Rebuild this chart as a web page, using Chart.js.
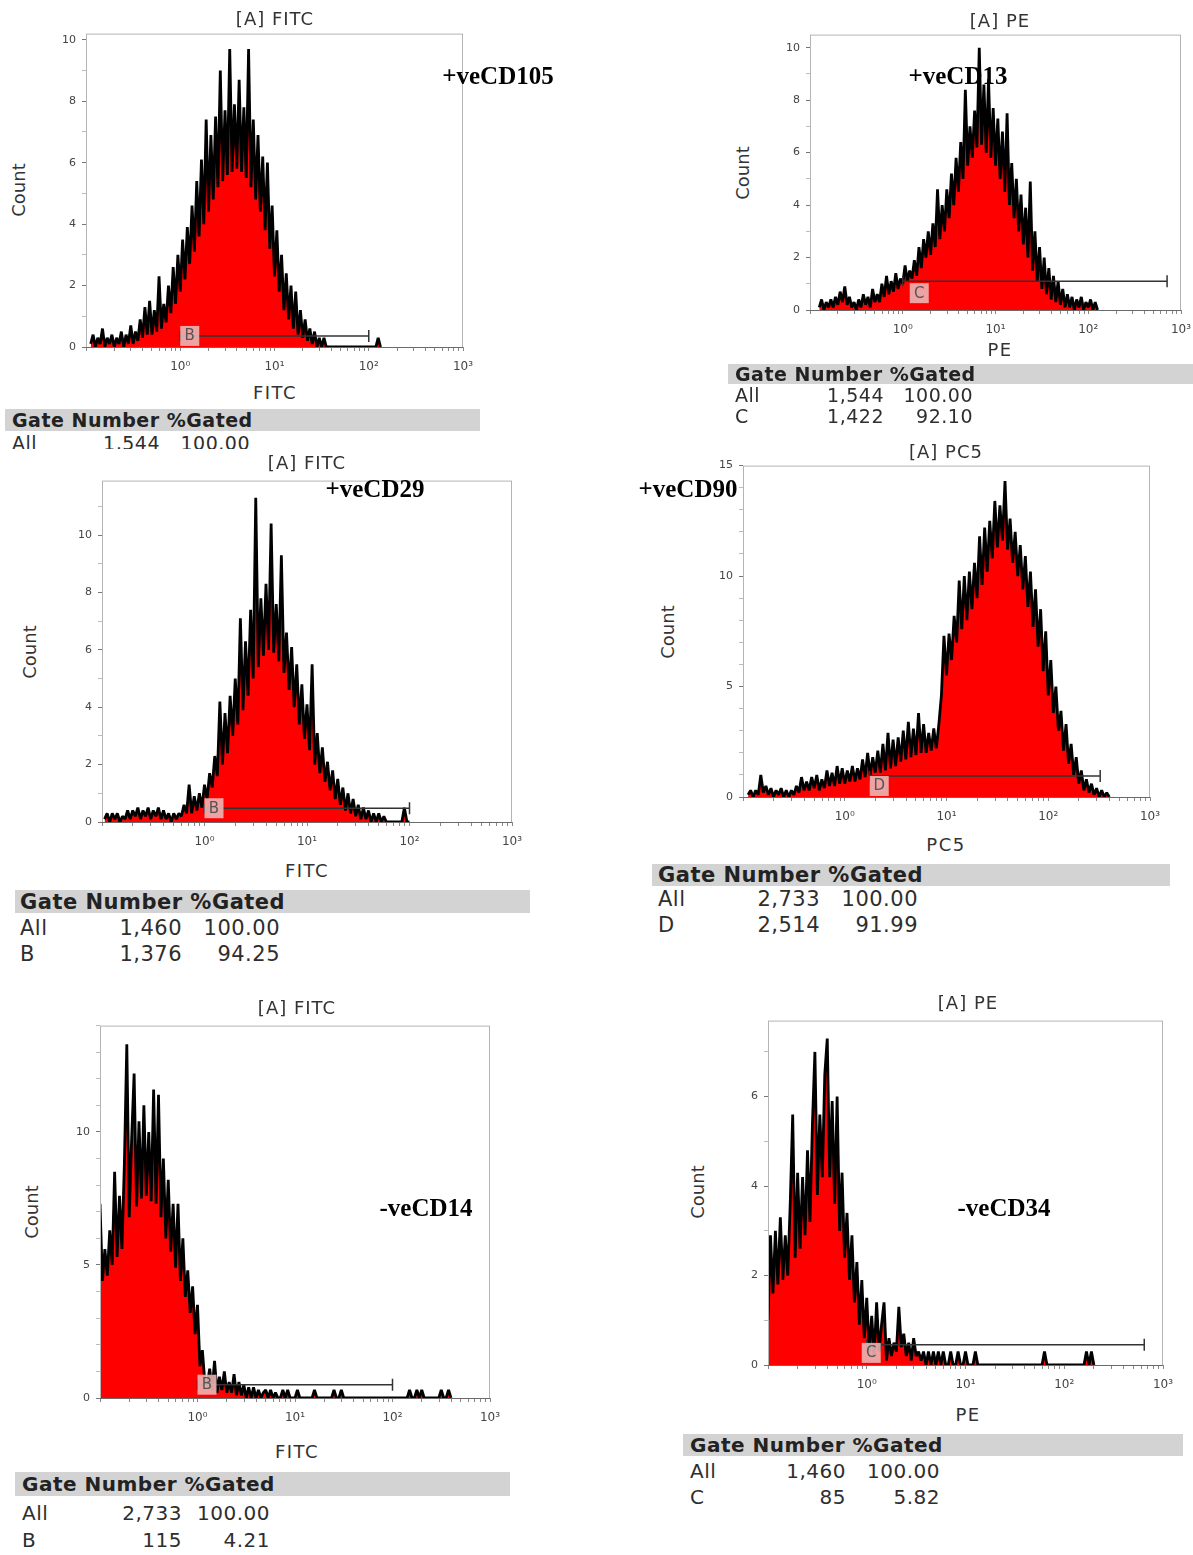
<!DOCTYPE html>
<html lang="en">
<head>
<meta charset="UTF-8">
<script src="https://cdn.jsdelivr.net/npm/chart.js"></script>
<style>
  body { margin:0; background:#fff; width:1193px; height:1555px; position:relative; overflow:hidden;
         font-family:"DejaVu Sans", Verdana, sans-serif; color:#333; }
  canvas { position:absolute; }
  .layer { position:absolute; left:0; width:1193px; overflow:hidden; }
  .t { position:absolute; white-space:nowrap; line-height:1; transform:translate(-50%,-50%); }
  .cnt { transform:translate(-50%,-50%) rotate(-90deg); }
  .mark { position:absolute; white-space:nowrap; line-height:1; transform:translate(-50%,-50%);
          font-family:"Liberation Serif","Times New Roman",serif; font-weight:bold; font-size:25px; color:#000; }
  .bar { position:absolute; background:#d3d3d3; }
  .cell { position:absolute; white-space:nowrap; line-height:1; transform:translateY(-50%); color:#2e2e2e; letter-spacing:0.5px; }
</style>
</head>
<body>
<script>
// histogram channels: log10 position = start + i * binStep
const binStep = 0.025;

const cd105Start = -0.95;
const cd105Counts = [
  0.1,0.4,0,0.3,0.1,0.6,0,0.3,0.1,0.4,
  0,0.3,0.1,0.5,0,0.4,0.1,0.7,0.1,0.5,
  0.2,0.9,0.3,1.3,0.4,1.5,0.4,1.2,0.5,2.3,
  0.6,1.4,0.8,2.0,1.1,2.6,1.4,3.0,1.8,3.5,
  2.2,3.9,2.7,4.6,3.1,5.4,3.6,6.1,4.0,7.4,
  4.4,6.9,4.8,7.5,5.2,9.0,5.4,7.7,5.6,9.7,
  5.7,7.9,5.8,8.7,5.7,7.8,5.5,9.7,5.2,7.4,
  4.8,6.9,4.4,6.2,3.8,6.0,3.2,4.6,2.3,3.8,
  1.8,3.0,1.2,2.4,0.9,2.0,0.6,1.8,0.4,1.2,
  0.3,0.9,0.2,0.6,0.1,0.5,0,0.3,0,0.3,
  0,0,0,0,0,0,0,0,0,0,
  0,0,0,0,0,0,0,0,0,0,
  0,0,0.3,0
];

const cd13Start = -0.9;
const cd13Counts = [
  0.1,0.4,0,0.3,0.1,0.4,0.1,0.5,0.2,0.7,
  0.3,0.9,0.2,0.5,0.1,0.3,0,0.4,0.1,0.6,
  0.2,0.5,0.1,0.8,0.3,0.6,0.3,1.0,0.5,1.3,
  0.6,1.1,0.7,1.4,0.8,1.2,1.0,1.7,1.1,1.5,
  1.2,1.9,1.3,2.4,1.6,2.7,2.0,3.0,2.1,3.3,
  2.4,4.6,2.7,4.0,3.0,4.6,3.5,5.2,4.0,5.8,
  4.5,6.4,5.0,8.4,5.5,7.0,5.8,7.6,6.2,10.0,
  6.3,8.6,6.0,8.8,5.8,7.7,5.5,7.3,5.0,6.8,
  4.5,7.5,4.0,5.6,3.5,5.0,3.0,4.4,2.5,3.9,
  2.0,4.9,1.5,3.0,1.1,2.4,0.8,2.0,0.6,1.6,
  0.4,1.3,0.3,1.1,0.2,0.8,0.1,0.6,0.1,0.5,
  0,0.4,0.1,0.5,0,0.3,0.1,0.4,0,0.3,
  0
];

const cd29Start = -0.975;
const cd29Counts = [
  0.1,0.3,0,0.3,0.1,0.3,0,0.2,0.1,0.4,
  0.1,0.4,0.2,0.5,0.1,0.4,0.2,0.5,0.1,0.4,
  0.2,0.5,0.1,0.4,0.1,0.3,0,0.3,0.1,0.3,
  0.2,0.6,0.3,1.3,0.3,0.9,0.4,1.0,0.5,1.3,
  0.8,1.7,1.2,2.3,1.6,4.2,2.0,3.8,2.4,4.4,
  3.0,5.0,3.4,7.1,3.9,6.3,4.4,7.4,5.0,11.3,
  5.4,7.8,5.8,8.3,6.0,10.4,5.9,7.6,5.6,9.3,
  5.2,6.6,4.6,6.1,4.0,5.5,3.4,4.8,2.9,4.1,
  2.5,5.5,2.0,3.1,1.7,2.6,1.4,2.1,1.1,1.8,
  0.8,1.5,0.6,1.2,0.4,1.0,0.3,0.8,0.2,0.6,
  0.1,0.5,0.1,0.4,0,0.3,0,0.3,0,0.2,
  0,0,0,0,0,0,0,0.5,0,0
];

const cd90Start = -0.95;
const cd90Counts = [
  0.1,0.3,0,0.3,0.1,1.0,0.2,0.5,0.1,0.4,
  0,0.3,0.1,0.4,0,0.3,0,0.3,0.1,0.5,
  0.2,0.9,0.3,0.7,0.3,0.9,0.4,1.0,0.3,0.8,
  0.4,1.2,0.5,1.1,0.5,1.4,0.6,1.3,0.6,1.2,
  0.7,1.4,0.7,1.3,0.8,1.7,0.9,2.0,1.0,1.8,
  1.1,2.1,1.1,2.4,1.2,2.9,1.3,2.6,1.4,2.7,
  1.6,3.0,1.7,3.4,1.8,3.1,1.9,3.8,2.0,3.3,
  2.0,2.9,2.1,3.1,2.2,3.3,4.6,7.3,5.5,7.4,
  6.2,8.2,7.0,9.8,7.6,10.0,8.0,10.2,8.5,10.6,
  9.0,11.8,9.6,12.2,10.2,12.5,10.8,13.4,11.3,13.2,
  11.6,14.3,11.2,12.6,10.6,12.0,10.0,11.4,9.4,10.9,
  8.6,10.2,7.7,9.4,6.8,8.5,5.7,7.5,4.6,6.2,
  3.8,5.0,3.0,3.9,2.1,3.3,1.5,2.4,1.0,1.8,
  0.6,1.2,0.3,0.8,0.2,0.6,0.1,0.4,0,0.3,
  0,0.2,0
];

const cd14Start = -1.0;
const cd14Counts = [
  7.3,4.4,5.6,4.6,6.3,5.0,8.5,5.3,7.6,5.6,
  8.8,13.3,6.8,9.8,12.2,7.2,10.4,7.5,11.0,7.6,
  10.0,7.4,11.6,7.3,11.4,6.8,9.0,6.0,8.2,5.5,
  7.3,4.9,7.3,4.4,6.0,3.8,4.8,3.2,4.2,2.4,
  3.5,1.2,1.8,0.6,0.5,1.1,0.3,1.4,0.2,0.8,
  0.3,1.0,0.2,0.6,0.2,0.9,0.1,0.6,0.1,0.5,
  0,0.4,0,0.4,0,0.3,0,0.2,0.3,0,
  0.3,0,0.2,0,0,0.3,0,0.3,0,0,
  0,0.3,0,0,0,0,0,0,0.3,0,
  0,0,0,0,0,0,0.3,0,0,0.3,
  0,0,0,0,0,0,0,0,0,0,
  0,0,0,0,0,0,0,0,0,0,
  0,0,0,0,0,0,0,0.3,0,0,
  0.3,0,0.3,0,0,0,0,0,0,0,
  0.3,0,0,0.3,0
];

const cd34Start = -1.0;
const cd34Counts = [
  1.0,2.9,1.6,3.0,1.8,3.3,1.9,2.9,2.0,3.6,
  5.6,2.4,4.3,2.6,4.2,2.9,4.8,3.2,5.4,7.0,
  3.8,5.6,4.2,6.5,7.3,4.2,5.9,3.6,6.0,3.0,
  4.3,2.4,3.4,1.9,2.9,1.4,2.3,0.9,1.9,0.6,
  1.5,0.3,1.1,0.2,1.4,0.3,0.9,1.4,0.1,0.6,
  0.2,0.5,0.3,1.3,0.4,0.7,0.2,0.5,0.1,0.6,
  0.2,0.3,0.1,0.3,0,0.3,0,0.3,0,0.3,
  0,0.3,0,0,0.3,0,0,0.3,0,0,
  0.3,0,0,0,0.3,0,0,0,0,0,
  0,0,0,0,0,0,0,0,0,0,
  0,0,0,0,0,0,0,0,0,0,
  0,0,0.3,0,0,0,0,0,0,0,
  0,0,0,0,0,0,0,0,0,0.3,
  0,0.3,0
];

// axis ticks
const xDecades = [1, 10, 100, 1000];
const xDecadeLabels = ['10\u2070', '10\u00b9', '10\u00b2', '10\u00b3'];
const cd105YTicks = [0, 2, 4, 6, 8, 10];
const cd13YTicks = [0, 2, 4, 6, 8, 10];
const cd29YTicks = [0, 2, 4, 6, 8, 10];
const cd90YTicks = [0, 5, 10, 15];
const cd14YTicks = [0, 5, 10];
const cd34YTicks = [0, 2, 4, 6];

// gate markers: [from, to, level]
const cd105Gate = [1, 100, 0.36];
const cd13Gate = [1, 708, 1.1];
const cd29Gate = [1, 100, 0.48];
const cd90Gate = [1.76, 324, 0.95];
const cd14Gate = [1, 100, 0.5];
const cd34Gate = [1, 646, 0.45];

// gate statistics tables
const cd105Rows = [['All', '1,544', '100.00']];
const cd13Rows = [['All', '1,544', '100.00'], ['C', '1,422', '92.10']];
const cd29Rows = [['All', '1,460', '100.00'], ['B', '1,376', '94.25']];
const cd90Rows = [['All', '2,733', '100.00'], ['D', '2,514', '91.99']];
const cd14Rows = [['All', '2,733', '100.00'], ['B', '115', '4.21']];
const cd34Rows = [['All', '1,460', '100.00'], ['C', '85', '5.82']];

const panels = [
  { start: cd105Start, counts: cd105Counts, yTicks: cd105YTicks, gate: cd105Gate, gateName: 'B', rows: cd105Rows,
    title: '[A] FITC', axis: 'FITC', marker: '+veCD105',
    box: { l: 86, t: 33, r: 463, b: 347 }, yMax: 10.2, boxDx: 0, boxDy: 0,
    titleAt: [275, 19], axisAt: [275, 393], countAt: [19, 190], markAt: [498, 75],
    table: { l: 5, r: 480, t: 409, b: 431, font: 19, labelX: 12, numX: 160, pctX: 250, headY: 420, rowY: [443], clip: 449 } },
  { start: cd13Start, counts: cd13Counts, yTicks: cd13YTicks, gate: cd13Gate, gateName: 'C', rows: cd13Rows,
    title: '[A] PE', axis: 'PE', marker: '+veCD13',
    box: { l: 810, t: 34, r: 1181, b: 310 }, yMax: 10.5, boxDx: 7, boxDy: 12,
    titleAt: [1000, 21], axisAt: [1000, 350], countAt: [743, 173], markAt: [958, 75],
    table: { l: 728, r: 1193, t: 364, b: 384, font: 19, labelX: 735, numX: 884, pctX: 973, headY: 374, rowY: [395, 416] } },
  { start: cd29Start, counts: cd29Counts, yTicks: cd29YTicks, gate: cd29Gate, gateName: 'B', rows: cd29Rows,
    title: '[A] FITC', axis: 'FITC', marker: '+veCD29',
    box: { l: 102, t: 480, r: 512, b: 822 }, yMax: 11.9, boxDx: 0, boxDy: 0,
    titleAt: [307, 463], axisAt: [307, 871], countAt: [30, 652], markAt: [375, 488],
    table: { l: 15, r: 530, t: 890, b: 913, font: 21, labelX: 20, numX: 182, pctX: 280, headY: 902, rowY: [928, 954] } },
  { start: cd90Start, counts: cd90Counts, yTicks: cd90YTicks, gate: cd90Gate, gateName: 'D', rows: cd90Rows,
    title: '[A] PC5', axis: 'PC5', marker: '+veCD90',
    box: { l: 743, t: 465, r: 1150, b: 797 }, yMax: 15, boxDx: 0, boxDy: 10, titleClip: 444,
    titleAt: [946, 452], axisAt: [946, 845], countAt: [668, 632], markAt: [688, 488],
    table: { l: 652, r: 1170, t: 864, b: 886, font: 21, labelX: 658, numX: 820, pctX: 918, headY: 875, rowY: [899, 925] } },
  { start: cd14Start, counts: cd14Counts, yTicks: cd14YTicks, gate: cd14Gate, gateName: 'B', rows: cd14Rows,
    title: '[A] FITC', axis: 'FITC', marker: '-veCD14',
    box: { l: 100, t: 1025, r: 490, b: 1398 }, yMax: 14, boxDx: 0, boxDy: 0,
    titleAt: [297, 1008], axisAt: [297, 1452], countAt: [32, 1212], markAt: [426, 1207],
    table: { l: 15, r: 510, t: 1472, b: 1496, font: 20, labelX: 22, numX: 182, pctX: 270, headY: 1484, rowY: [1513, 1540] } },
  { start: cd34Start, counts: cd34Counts, yTicks: cd34YTicks, gate: cd34Gate, gateName: 'C', rows: cd34Rows,
    title: '[A] PE', axis: 'PE', marker: '-veCD34',
    box: { l: 768, t: 1020, r: 1163, b: 1365 }, yMax: 7.7, boxDx: -5, boxDy: 8,
    titleAt: [968, 1003], axisAt: [968, 1415], countAt: [698, 1192], markAt: [1004, 1207],
    table: { l: 683, r: 1183, t: 1434, b: 1456, font: 20, labelX: 690, numX: 846, pctX: 940, headY: 1445, rowY: [1471, 1497] } }
];

Chart.defaults.font.family = '"DejaVu Sans", Verdana, sans-serif';

// minor x ticks at 2..9 of each decade
const xAllTicks = [0.1];
[0.1, 1, 10, 100].forEach(d => {
  for (let m = 2; m <= 9; m++) xAllTicks.push(d * m);
  xAllTicks.push(d * 10 === 1 ? 1 : d * 10);
});

const YW = 38, PT = 12, PR = 22, XH = 32;

const framePlugin = {
  id: 'flowFrame',
  afterDatasetsDraw(chart, args, opts) {
    const { ctx, chartArea: a, scales: { x, y } } = chart;
    ctx.save();
    ctx.strokeStyle = '#b4b4b4';
    ctx.lineWidth = 1;
    ctx.strokeRect(a.left + 0.5, a.top + 0.5, a.right - a.left - 1, a.bottom - a.top);
    ctx.strokeStyle = '#6a6a6a';
    ctx.beginPath();
    ctx.moveTo(a.left, a.bottom + 0.5);
    ctx.lineTo(a.right, a.bottom + 0.5);
    ctx.stroke();

    // gate marker
    const [from, to, level] = opts.gate;
    const gx0 = x.getPixelForValue(from), gx1 = x.getPixelForValue(to);
    const gy = y.getPixelForValue(level);
    ctx.strokeStyle = '#333';
    ctx.lineWidth = 1.5;
    ctx.beginPath();
    ctx.moveTo(gx0, gy); ctx.lineTo(gx1, gy);
    ctx.moveTo(gx0, gy - 5); ctx.lineTo(gx0, gy + 5);
    ctx.moveTo(gx1, gy - 6); ctx.lineTo(gx1, gy + 6);
    ctx.stroke();

    const bx = gx0 + opts.boxDx, by = gy - 10 + opts.boxDy;
    ctx.fillStyle = 'rgba(236,184,184,0.88)';
    ctx.fillRect(bx, by, 19, 20);
    ctx.fillStyle = '#555';
    ctx.font = '15px "DejaVu Sans"';
    ctx.textAlign = 'center';
    ctx.textBaseline = 'middle';
    ctx.fillText(opts.name, bx + 9.5, by + 10.5);
    ctx.restore();
  }
};

function addText(parent, cls, str, x, y, css) {
  const d = document.createElement('div');
  d.className = cls;
  d.textContent = str;
  d.style.left = x + 'px';
  d.style.top = y + 'px';
  Object.assign(d.style, css || {});
  parent.appendChild(d);
  return d;
}

function makeLayer(top, bottom) {
  const d = document.createElement('div');
  d.className = 'layer';
  d.style.top = top + 'px';
  d.style.height = (bottom - top) + 'px';
  document.body.appendChild(d);
  return d;
}

function addTable(p) {
  const t = p.table;
  const top = t.t - 2;
  const layer = makeLayer(top, t.clip || (t.rowY[t.rowY.length - 1] + 16));
  const bar = document.createElement('div');
  bar.className = 'bar';
  bar.style.left = t.l + 'px';
  bar.style.top = (t.t - top) + 'px';
  bar.style.width = (t.r - t.l) + 'px';
  bar.style.height = (t.b - t.t) + 'px';
  layer.appendChild(bar);
  addText(layer, 'cell', 'Gate Number %Gated', t.labelX, t.headY - top,
    { fontWeight: 'bold', fontSize: t.font + 'px', color: '#222' });
  p.rows.forEach((r, k) => {
    const y = t.rowY[k] - top;
    addText(layer, 'cell', r[0], t.labelX, y, { fontSize: t.font + 'px' });
    addText(layer, 'cell', r[1], t.numX - 160, y, { fontSize: t.font + 'px', width: '160px', textAlign: 'right' });
    addText(layer, 'cell', r[2], t.pctX - 160, y, { fontSize: t.font + 'px', width: '160px', textAlign: 'right' });
  });
}

function buildPanel(p) {
  const w = p.box.r - p.box.l, h = p.box.b - p.box.t;
  const cv = document.createElement('canvas');
  cv.width = w + YW + PR;
  cv.height = h + PT + XH;
  cv.style.left = (p.box.l - YW) + 'px';
  cv.style.top = (p.box.t - PT) + 'px';
  cv.style.width = cv.width + 'px';
  cv.style.height = cv.height + 'px';
  document.body.appendChild(cv);

  const yAll = [];
  for (let v = 0; v <= Math.floor(p.yMax); v++) yAll.push(v);

  new Chart(cv, {
    type: 'line',
    data: {
      datasets: [{
        data: p.counts.map((c, i) => ({ x: Math.pow(10, p.start + i * binStep), y: c })),
        fill: 'origin',
        backgroundColor: '#ff0000',
        borderColor: '#000',
        borderWidth: 2.8,
        borderJoinStyle: 'bevel',
        pointRadius: 0,
        tension: 0
      }]
    },
    options: {
      responsive: false,
      animation: false,
      events: [],
      layout: { padding: { top: PT, right: PR, left: 0, bottom: 0 } },
      plugins: {
        legend: { display: false },
        tooltip: { enabled: false },
        flowFrame: { gate: p.gate, name: p.gateName, boxDx: p.boxDx, boxDy: p.boxDy }
      },
      scales: {
        x: {
          type: 'logarithmic', min: 0.1, max: 1000,
          afterBuildTicks: s => { s.ticks = xAllTicks.map(v => ({ value: v })); },
          afterFit: s => { s.height = XH; },
          ticks: {
            autoSkip: false, maxRotation: 0, padding: 9,
            color: '#444', font: { size: 12 },
            callback: v => { const k = xDecades.indexOf(v); return k >= 0 ? xDecadeLabels[k] : ''; }
          },
          grid: { drawOnChartArea: false, tickLength: 4, color: '#888' },
          border: { display: false }
        },
        y: {
          type: 'linear', min: 0, max: p.yMax,
          afterBuildTicks: s => { s.ticks = yAll.map(v => ({ value: v })); },
          afterFit: s => { s.width = YW; },
          ticks: {
            autoSkip: false, padding: 6, color: '#444', font: { size: 11 },
            callback: v => p.yTicks.includes(v) ? String(v) : ''
          },
          grid: {
            drawOnChartArea: false, tickLength: 4,
            color: c => (c.tick && p.yTicks.includes(c.tick.value)) ? '#777' : '#bbb'
          },
          border: { display: false }
        }
      }
    },
    plugins: [framePlugin]
  });

  // titles and axis labels
  if (p.titleClip) {
    const layer = makeLayer(p.titleClip, p.titleAt[1] + 14);
    addText(layer, 't', p.title, p.titleAt[0], p.titleAt[1] - p.titleClip, { fontSize: '18px', letterSpacing: '1px' });
  } else {
    addText(document.body, 't', p.title, p.titleAt[0], p.titleAt[1], { fontSize: '18px', letterSpacing: '1px' });
  }
  addText(document.body, 't', p.axis, p.axisAt[0], p.axisAt[1], { fontSize: '18px', letterSpacing: '1.5px' });
  addText(document.body, 't cnt', 'Count', p.countAt[0], p.countAt[1], { fontSize: '18px' });
  addText(document.body, 'mark', p.marker, p.markAt[0], p.markAt[1]);
  addTable(p);
}

panels.forEach(buildPanel);
</script>
</body>
</html>
